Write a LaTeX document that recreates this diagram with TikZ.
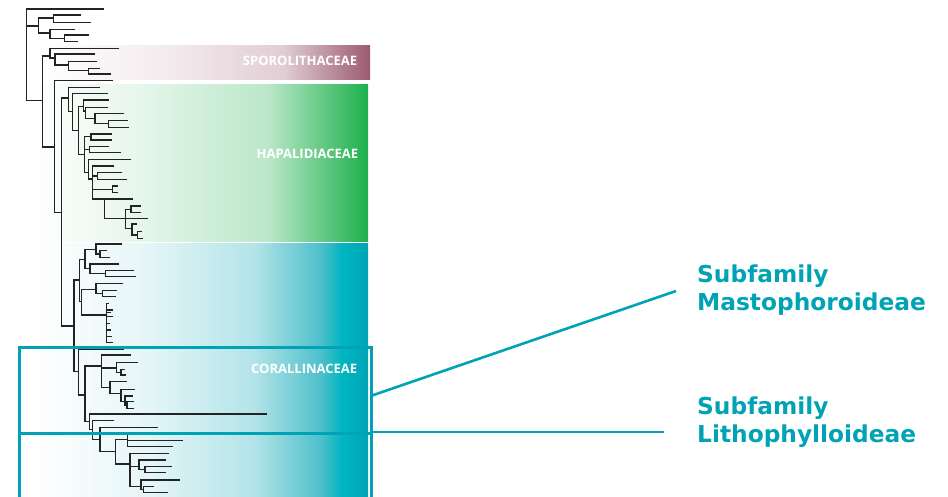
\documentclass[tikz,border=0pt]{standalone}
\usepackage{fontspec}
\setmainfont{DejaVu Sans}
\newfontfamily\bandfont{Open Sans}
\usetikzlibrary{positioning}
\definecolor{sporored}{RGB}{155,90,112}
\definecolor{hapagreen}{RGB}{28,176,75}
\definecolor{coralteal}{RGB}{0,164,180}
\definecolor{coralbright}{RGB}{0,182,194}
\definecolor{subteal}{RGB}{0,163,180}
\definecolor{branchgray}{RGB}{35,35,35}
\pgfdeclarehorizontalshading{sporofade}{100bp}{color(0bp)=(white); color(25bp)=(white); color(45bp)=(sporored!12); color(62bp)=(sporored!30); color(75bp)=(sporored); color(100bp)=(sporored)}
\pgfdeclarehorizontalshading{hapafade}{100bp}{color(0bp)=(white); color(25bp)=(white); color(42bp)=(hapagreen!12); color(60bp)=(hapagreen!30); color(75bp)=(hapagreen); color(100bp)=(hapagreen)}
\pgfdeclarehorizontalshading{coralfade}{100bp}{color(0bp)=(white); color(25bp)=(white); color(42bp)=(coralteal!10); color(58bp)=(coralteal!30); color(68bp)=(coralteal!70); color(71bp)=(coralbright); color(75bp)=(coralteal); color(100bp)=(coralteal)}
% one clade: node x, upper child (y, end), lower child (y, end)
\newcommand{\clade}[5]{\draw[branch] (#3,#2) -| (#1,#4) -- (#5,#4);}
\newcommand{\twig}[3]{\draw[branch] (#1,#2) -- (#3,#2);}

\begin{document}
\begin{tikzpicture}[x=1pt,y=-1pt]
  \tikzstyle{band}=[inner sep=0pt,anchor=north west,minimum width=335pt]
  \tikzstyle{bandlbl}=[inner sep=0pt,text=white,font=\bandfont\bfseries\fontsize{13}{13}\selectfont]
  \tikzstyle{branch}=[draw=branchgray,line width=1.2pt]
  \tikzstyle{frame}=[draw=subteal,line width=2.6pt,inner sep=0pt,anchor=north west,minimum width=352pt]
  \tikzstyle{leader}=[draw=subteal,line width=2.6pt]
  \tikzstyle{sublbl}=[inner sep=0pt,anchor=west,align=left,text=subteal,font=\bfseries\fontsize{23.3}{28}\selectfont]
  \useasboundingbox (0,0) rectangle (948,496);
  \clip (0,0) rectangle (948,496);

  % family bands
  \node[band,shading=sporofade,minimum height=34pt]  (sporo) at (35,45)  {};
  \node[band,shading=hapafade,minimum height=157pt]  (hapa)  at (33,84)  {};
  \node[band,shading=coralfade,minimum height=255pt] (coral) at (33,243) {};
  \node[bandlbl,left=13pt of sporo.east,yshift=1pt]  {SPOROLITHACEAE};
  \node[bandlbl,left=10pt of hapa.east,yshift=9pt]   {HAPALIDIACEAE};
  \node[bandlbl,left=11pt of coral.east,yshift=2pt]  {CORALLINACEAE};

  % tree: root and outgroups
  \clade{26.7}{9}{104}{100.7}{42.7}  \twig{26.7}{26}{38.3}
  \clade{38.3}{18}{53.3}{33}{50}
  \clade{53.3}{15}{81}{22.7}{91}
  \clade{50}{29.3}{75}{38.3}{64.3}
  \clade{64.3}{35}{89}{41.7}{78}
  \clade{42.7}{56}{50}{147}{54.3}
  % Sporolithaceae
  \clade{50}{48.3}{119}{58}{55}
  \clade{55}{54}{94.7}{65}{68.3}
  \clade{68.3}{61.7}{96.7}{70.7}{88.3}
  \clade{88.3}{68.3}{100}{74}{111}
  \clade{54.3}{80.7}{113}{212.7}{61.7}
  \clade{61.7}{98}{68.3}{326}{74}
  % Hapalidiaceae
  \clade{68.3}{87.3}{100}{111.7}{72.7}
  \clade{72.7}{93.3}{108.3}{130.7}{78.3}
  \clade{78.3}{106.7}{83.3}{154.3}{84.3}
  \clade{83.3}{100}{109.3}{111}{85.7}
  \clade{85.7}{107.3}{108.3}{118.3}{95}
  \clade{95}{113.3}{124.3}{123.7}{108.3}
  \clade{108.3}{120.7}{127.7}{127.3}{129}
  \clade{84.3}{136.7}{91}{172.7}{88.3}  \twig{84.3}{149.7}{89.3}
  \clade{91}{134}{112.3}{140}{112.3}
  \clade{89.3}{146.7}{109}{152.7}{121}
  \clade{88.3}{159.3}{131}{179}{92.3}
  \clade{92.3}{166}{114.3}{199}{104.3}  \twig{92.3}{176}{97.7}  \twig{92.3}{189.3}{112.3}
  \clade{97.7}{172.7}{122.3}{179.3}{126.7}
  \clade{112.3}{186}{118.3}{192.7}{117.7}
  \clade{104.3}{199}{133.3}{218.7}{125.7}
  \clade{125.7}{209.3}{131}{228.3}{132}  \twig{125.7}{218.7}{148}
  \clade{131}{206}{141}{212.3}{141}
  \clade{132}{224}{137}{235}{137.7}
  \clade{137.7}{231.7}{142.3}{238.3}{142.7}
  % Corallinaceae
  \clade{74}{280}{79.3}{371.7}{78.3}
  \clade{79.3}{259.3}{85}{301.7}{81.7}
  \clade{85}{249.3}{96}{268.3}{90}
  \clade{96}{244}{121.7}{254}{100}
  \clade{100}{250.7}{107.3}{257.3}{110}
  \clade{90}{264}{119.3}{273.3}{105.7}
  \clade{105.7}{270.7}{134}{276.7}{136}
  \clade{81.7}{289.3}{96}{315}{106.7}
  \clade{96}{283.3}{123.3}{293.3}{102.7}
  \clade{102.7}{290.7}{116.7}{296.7}{116}
  \clade{106.7}{303.3}{109}{342.3}{113}
  \foreach \y/\e in {310/113,312.7/111,316.7/113,323.3/110,330/111,336.7/112}
    {\twig{106.7}{\y}{\e}}
  \clade{78.3}{349.3}{124.3}{395}{85}
  \clade{85}{366}{101.7}{421.7}{89.3}
  \clade{101.7}{355}{130.7}{387.5}{110}  \twig{101.7}{368}{116.7}
  \clade{116.7}{362.7}{137.7}{372.2}{121}
  \clade{121}{369.3}{125}{375}{125.7}
  \clade{110}{381.7}{126.7}{393.3}{121}
  \clade{121}{389.3}{135}{401.7}{125}
  \clade{125}{396}{133.3}{405}{127}
  \clade{127}{401.7}{134}{408.3}{134.3}
  \clade{89.3}{414}{267.3}{429.3}{92.3}
  \clade{92.3}{420.7}{114.3}{439.3}{100}
  \clade{100}{427.3}{157.7}{451.7}{115.7}
  \clade{115.7}{439.3}{127.7}{464}{130}
  \clade{127.7}{434}{170}{446.7}{173.3}  \twig{127.7}{440.7}{183.3}
  \clade{130}{453.3}{169}{486.7}{141}  \twig{130}{466.7}{139}
  \clade{139}{460}{166}{469.7}{145}
  \clade{145}{466.7}{172.3}{472.7}{165.7}
  \clade{141}{480}{180}{489.7}{143.3}
  \clade{143.3}{486.7}{154.3}{492.7}{167.7}

  % subfamily frames and call-outs
  \node[frame,minimum height=86pt] (mastbox) at (18,346) {};
  \node[frame,minimum height=80pt] (lithbox) at (18,432) {};
  \node[sublbl] (mastlbl) at (697,290) {Subfamily\\Mastophoroideae};
  \node[sublbl] (lithlbl) at (697,422) {Subfamily\\Lithophylloideae};
  \coordinate (mastend) at (676,291);
  \coordinate (lithend) at (664,432);
  \draw[leader] ([yshift=-5pt]mastbox.east) -- (mastend);
  \draw[leader] (lithbox.north east) -- (lithend);
\end{tikzpicture}
\end{document}
